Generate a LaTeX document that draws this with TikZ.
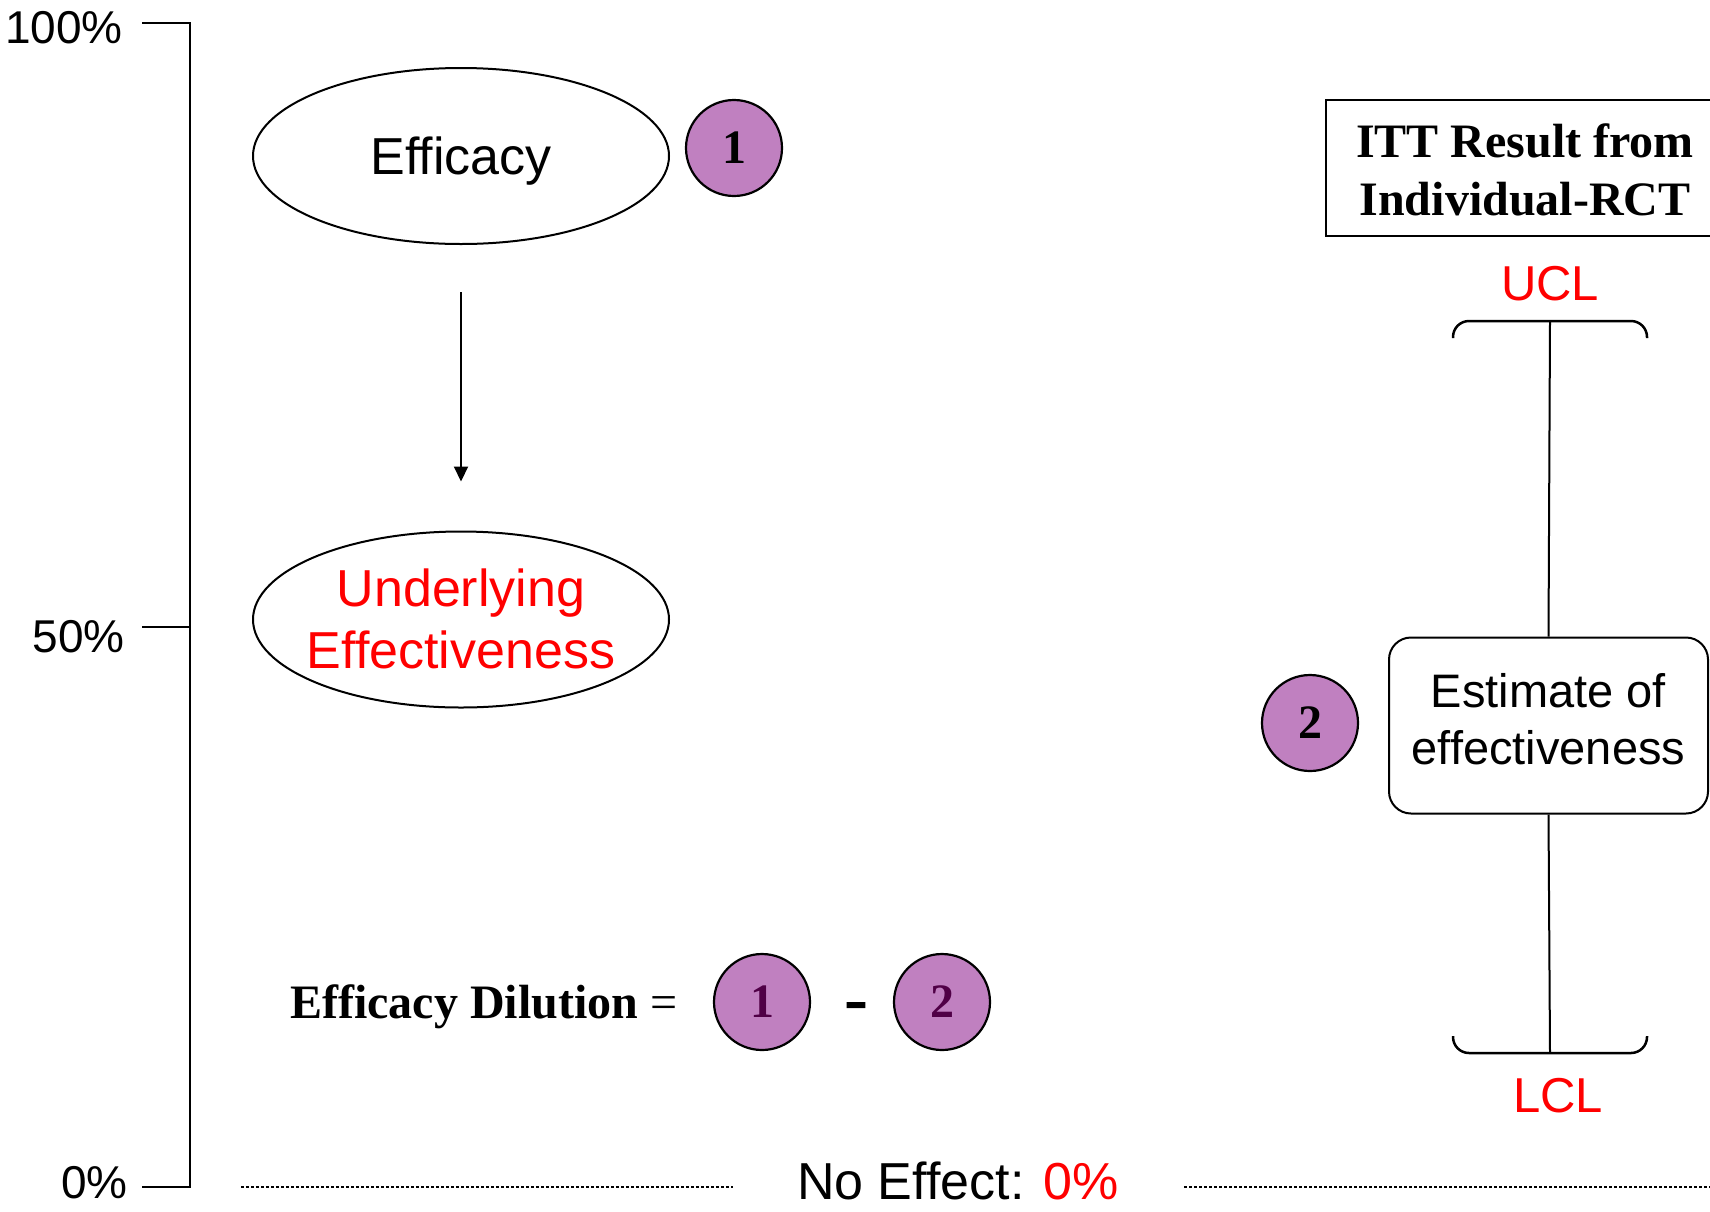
\documentclass[tikz,border=0pt]{standalone}
\usepackage{fontspec}
\setmainfont{Liberation Serif}
\newfontfamily\arialf{Liberation Sans}
\usetikzlibrary{arrows.meta,calc,shapes.geometric}
\definecolor{purp}{RGB}{192,128,192}
\definecolor{darkpurp}{RGB}{80,0,70}
\tikzset{
  sansbig/.style={font=\arialf\fontsize{52}{62}\selectfont},
  sanslbl/.style={font=\arialf\fontsize{47}{57}\selectfont},
  ticklbl/.style={font=\arialf\fontsize{46}{56}\selectfont, inner sep=0},
  oval/.style={ellipse, draw, line width=2, minimum width=416, minimum height=176, inner sep=0},
  numc/.style={circle, draw, fill=purp, line width=2.2, minimum size=96, inner sep=0,
    font=\bfseries\fontsize{48}{58}\selectfont},
  axisline/.style={line width=2},
  brk/.style={line width=2.5, rounded corners=16},
  dotline/.style={line width=2, dash pattern=on 2.5 off 2.5},
}
\begin{document}
\begin{tikzpicture}[x=1pt,y=-1pt]
\useasboundingbox (0,0) rectangle (1710,1211);
\clip (0,0) rectangle (1710,1211);

% axis
\coordinate (t100) at (142,23);
\coordinate (a100) at (190,23);
\coordinate (t50) at (142,627);
\coordinate (a50) at (190,627);
\coordinate (t0) at (142,1187);
\coordinate (a0) at (190,1187);
\draw[axisline] (t100) -- (a100) -- (a0) -- (t0);
\draw[axisline] (t50) -- (a50);
\node[ticklbl, anchor=base east] (l100) at (123,43) {100\%};
\node[ticklbl, anchor=base east] (l50) at (125,652) {50\%};
\node[ticklbl, anchor=base east] (l0) at (128,1198) {0\%};

% ellipses
\node[oval, sansbig] (eff) at (461,156)
  {\makebox[0pt]{\raisebox{-18.6pt}[0pt][0pt]{Efficacy}}};
\node[oval, sansbig, text=red] (und) at (461,619.5)
  {\makebox[0pt]{\raisebox{-49pt}[0pt][0pt]{\begin{tabular}[b]{@{}c@{}}Underlying\\Effectiveness\end{tabular}}}};
\draw[line width=2, -{Triangle[width=14,length=15]}]
  ($(eff.south)+(0,47)$) -- ($(und.north)+(0,-49)$);

\node[numc] (c1) at (734,148) {1};

% ITT box
\node[draw, line width=2, minimum width=398, minimum height=136, inner sep=0, align=center,
  font=\bfseries\fontsize{48}{58}\selectfont] (itt) at (1525,168)
  {\rule{0pt}{38pt}ITT Result from\\Individual-RCT};

% CI bar
\node[font=\arialf\fontsize{49}{58}\selectfont, text=red, inner sep=0] (ucl) at (1550,284) {UCL};
\node[font=\arialf\fontsize{49}{58}\selectfont, text=red, inner sep=0] (lcl) at (1558,1096) {LCL};
\coordinate (ub) at (1550,321);
\coordinate (lb) at (1550,1053);
\draw[brk] (1453,338) -- (1453,321) -- (1647,321) -- (1647,338);
\draw[brk] (1453,1036) -- (1453,1053) -- (1647,1053) -- (1647,1036);
\node[draw, line width=2, rounded corners=22, minimum width=319, minimum height=176, inner sep=0,
  align=center, sanslbl] (est) at (1548.5,725.5)
  {Estimate of\\effectiveness\rule[-14pt]{0pt}{14pt}};
\draw[line width=2] (ub) -- (est.north);
\draw[line width=2] (est.south) -- (lb);
\node[numc] (c2) at (1310,723) {2};

% formula
\node[anchor=base west, inner sep=0, font=\fontsize{48}{58}\selectfont] (dil) at (290,1018)
  {\textbf{Efficacy Dilution} =};
\node[numc, text=darkpurp] (f1) at (762,1002) {1};
\node[numc, text=darkpurp] (f2) at (942,1002) {2};
\node[inner sep=0, font=\bfseries\fontsize{72}{80}\selectfont] (minus) at (856,1012) {-};

% no effect
\coordinate (d1a) at (241,1187);
\coordinate (d1b) at (733,1187);
\coordinate (d2a) at (1184,1187);
\coordinate (d2b) at (1712,1187);
\draw[dotline] (d1a) -- (d1b);
\draw[dotline] (d2a) -- (d2b);
\node[sansbig, anchor=base, inner sep=0] (noeff) at (958,1199) {No Effect: \textcolor{red}{0\%}};
\end{tikzpicture}
\end{document}
